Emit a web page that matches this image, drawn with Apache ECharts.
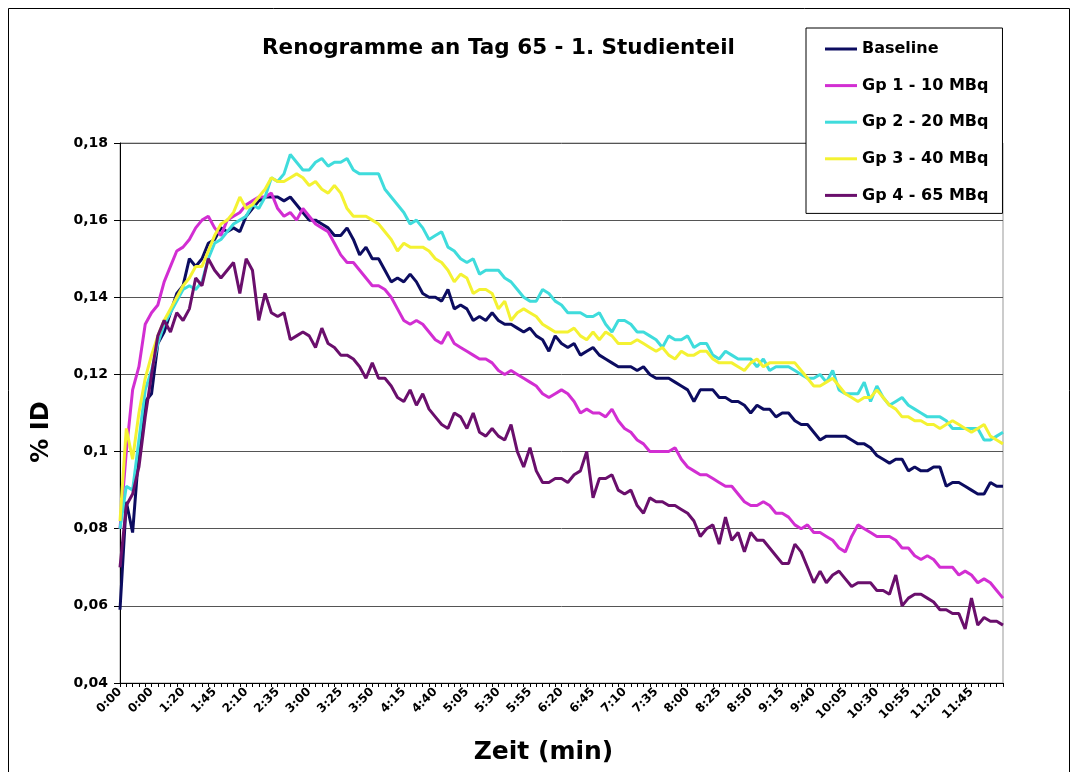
<!DOCTYPE html>
<html>
<head>
<meta charset="utf-8">
<title>Renogramme an Tag 65</title>
<script src="https://cdn.jsdelivr.net/npm/echarts@6/dist/echarts.min.js"></script>
<style>
  html, body { margin: 0; padding: 0; background: #fff; }
  #chart { width: 1078px; height: 772px; }
</style>
</head>
<body>
<div id="chart"></div>
<script>
// time axis: first ten samples are shown as 0:00, then 5 s steps from 1:20
const timeLabels = [];
for (let i = 0; i < 141; i++) {
  if (i < 10) { timeLabels.push('0:00'); continue; }
  const s = 30 + 5 * i;
  timeLabels.push(Math.floor(s / 60) + ':' + String(s % 60).padStart(2, '0'));
}

const seriesNames = ['Baseline', 'Gp 1 - 10 MBq', 'Gp 2 - 20 MBq', 'Gp 3 - 40 MBq', 'Gp 4 - 65 MBq'];

const baseline = [
  .059,.087,.079,.100,.113,.115,.128,.131,.136,.141,
  .143,.150,.148,.150,.154,.155,.158,.157,.158,.157,
  .161,.163,.165,.166,.166,.166,.165,.166,.164,.162,
  .160,.160,.159,.158,.156,.156,.158,.155,.151,.153,
  .150,.150,.147,.144,.145,.144,.146,.144,.141,.140,
  .140,.139,.142,.137,.138,.137,.134,.135,.134,.136,
  .134,.133,.133,.132,.131,.132,.130,.129,.126,.130,
  .128,.127,.128,.125,.126,.127,.125,.124,.123,.122,
  .122,.122,.121,.122,.120,.119,.119,.119,.118,.117,
  .116,.113,.116,.116,.116,.114,.114,.113,.113,.112,
  .110,.112,.111,.111,.109,.110,.110,.108,.107,.107,
  .105,.103,.104,.104,.104,.104,.103,.102,.102,.101,
  .099,.098,.097,.098,.098,.095,.096,.095,.095,.096,
  .096,.091,.092,.092,.091,.090,.089,.089,.092,.091,
  .091
];
const gp1 = [
  .080,.100,.116,.122,.133,.136,.138,.144,.148,.152,
  .153,.155,.158,.160,.161,.158,.156,.160,.161,.162,
  .164,.165,.166,.166,.167,.163,.161,.162,.160,.163,
  .161,.159,.158,.157,.154,.151,.149,.149,.147,.145,
  .143,.143,.142,.140,.137,.134,.133,.134,.133,.131,
  .129,.128,.131,.128,.127,.126,.125,.124,.124,.123,
  .121,.120,.121,.120,.119,.118,.117,.115,.114,.115,
  .116,.115,.113,.110,.111,.110,.110,.109,.111,.108,
  .106,.105,.103,.102,.100,.100,.100,.100,.101,.098,
  .096,.095,.094,.094,.093,.092,.091,.091,.089,.087,
  .086,.086,.087,.086,.084,.084,.083,.081,.080,.081,
  .079,.079,.078,.077,.075,.074,.078,.081,.080,.079,
  .078,.078,.078,.077,.075,.075,.073,.072,.073,.072,
  .070,.070,.070,.068,.069,.068,.066,.067,.066,.064,
  .062
];
const gp2 = [
  .080,.091,.090,.103,.116,.121,.128,.133,.136,.139,
  .142,.143,.142,.144,.150,.154,.155,.157,.159,.160,
  .161,.164,.163,.166,.171,.170,.172,.177,.175,.173,
  .173,.175,.176,.174,.175,.175,.176,.173,.172,.172,
  .172,.172,.168,.166,.164,.162,.159,.160,.158,.155,
  .156,.157,.153,.152,.150,.149,.150,.146,.147,.147,
  .147,.145,.144,.142,.140,.139,.139,.142,.141,.139,
  .138,.136,.136,.136,.135,.135,.136,.133,.131,.134,
  .134,.133,.131,.131,.130,.129,.127,.130,.129,.129,
  .130,.127,.128,.128,.125,.124,.126,.125,.124,.124,
  .124,.122,.124,.121,.122,.122,.122,.121,.120,.119,
  .119,.120,.118,.121,.116,.115,.115,.115,.118,.113,
  .117,.114,.112,.113,.114,.112,.111,.110,.109,.109,
  .109,.108,.106,.106,.106,.106,.106,.103,.103,.104,
  .105
];
const gp3 = [
  .082,.106,.098,.110,.119,.125,.130,.134,.137,.140,
  .143,.145,.148,.148,.152,.156,.159,.160,.162,.166,
  .163,.164,.166,.168,.171,.170,.170,.171,.172,.171,
  .169,.170,.168,.167,.169,.167,.163,.161,.161,.161,
  .160,.159,.157,.155,.152,.154,.153,.153,.153,.152,
  .150,.149,.147,.144,.146,.145,.141,.142,.142,.141,
  .137,.139,.134,.136,.137,.136,.135,.133,.132,.131,
  .131,.131,.132,.130,.129,.131,.129,.131,.130,.128,
  .128,.128,.129,.128,.127,.126,.127,.125,.124,.126,
  .125,.125,.126,.126,.124,.123,.123,.123,.122,.121,
  .123,.124,.122,.123,.123,.123,.123,.123,.121,.119,
  .117,.117,.118,.119,.117,.115,.114,.113,.114,.114,
  .116,.114,.112,.111,.109,.109,.108,.108,.107,.107,
  .106,.107,.108,.107,.106,.105,.106,.107,.104,.103,
  .102
];
const gp4 = [
  .070,.086,.089,.096,.109,.120,.130,.134,.131,.136,
  .134,.137,.145,.143,.150,.147,.145,.147,.149,.141,
  .150,.147,.134,.141,.136,.135,.136,.129,.130,.131,
  .130,.127,.132,.128,.127,.125,.125,.124,.122,.119,
  .123,.119,.119,.117,.114,.113,.116,.112,.115,.111,
  .109,.107,.106,.110,.109,.106,.110,.105,.104,.106,
  .104,.103,.107,.100,.096,.101,.095,.092,.092,.093,
  .093,.092,.094,.095,.100,.088,.093,.093,.094,.090,
  .089,.090,.086,.084,.088,.087,.087,.086,.086,.085,
  .084,.082,.078,.080,.081,.076,.083,.077,.079,.074,
  .079,.077,.077,.075,.073,.071,.071,.076,.074,.070,
  .066,.069,.066,.068,.069,.067,.065,.066,.066,.066,
  .064,.064,.063,.068,.060,.062,.063,.063,.062,.061,
  .059,.059,.058,.058,.054,.062,.055,.057,.056,.056,
  .055
];

const yMin = 0.04, yMax = 0.18, yStep = 0.02;
const colors = ['#0c0c60', '#d22ed2', '#3fdcdc', '#f4f232', '#6a0f6c'];
const seriesData = [baseline, gp1, gp2, gp3, gp4];

const font = 'DejaVu Sans';

const chart = echarts.init(document.getElementById('chart'), null, { renderer: 'canvas' });

const option = {
  animation: false,
  backgroundColor: '#fff',
  color: colors,
  title: {
    text: 'Renogramme an Tag 65 - 1. Studienteil',
    left: 257,
    top: 32,
    textStyle: { fontFamily: font, fontWeight: 'bold', fontSize: 21.5, color: '#000' }
  },
  legend: {
    orient: 'vertical',
    left: 806,
    top: 28,
    padding: [13, 14, 10, 19],
    icon: 'rect',
    itemWidth: 32,
    itemHeight: 3,
    itemGap: 20.6,
    borderColor: '#000',
    borderWidth: 1,
    backgroundColor: '#fff',
    data: seriesNames,
    textStyle: { fontFamily: font, fontWeight: 'bold', fontSize: 16, color: '#000' }
  },
  grid: {
    left: 120,
    right: 75,
    top: 143,
    bottom: 89,
    show: true,
    borderColor: '#999',
    borderWidth: 1,
    containLabel: false
  },
  xAxis: {
    type: 'category',
    data: timeLabels,
    boundaryGap: false,
    name: 'Zeit (min)',
    nameLocation: 'middle',
    nameGap: 57,
    nameTextStyle: { fontFamily: font, fontWeight: 'bold', fontSize: 25, color: '#000', padding: [0, 36, 0, 0] },
    axisLine: { lineStyle: { color: '#000', width: 1 } },
    axisTick: { show: true, interval: 0, length: 4, lineStyle: { color: '#000' } },
    axisLabel: {
      interval: (idx) => idx % 5 === 0 && idx < 140,
      rotate: 45,
      margin: 7,
      fontFamily: font,
      fontWeight: 'bold',
      fontSize: 12,
      color: '#000'
    },
    splitLine: { show: false }
  },
  yAxis: {
    type: 'value',
    min: yMin,
    max: yMax,
    interval: yStep,
    name: '% ID',
    nameLocation: 'middle',
    nameGap: 66,
    nameRotate: 90,
    nameTextStyle: { fontFamily: font, fontWeight: 'bold', fontSize: 24, color: '#000', padding: [0, 38, 0, 0] },
    axisLine: { show: true, lineStyle: { color: '#000', width: 1 } },
    axisTick: { show: true, length: 6, lineStyle: { color: '#000' } },
    axisLabel: {
      margin: 12,
      fontFamily: font,
      fontWeight: 'bold',
      fontSize: 14,
      color: '#000',
      formatter: (v) => String(+v.toFixed(2)).replace('.', ',')
    },
    splitLine: { show: true, lineStyle: { color: '#555', width: 1 } }
  },
  series: seriesNames.map((name, i) => ({
    name: name,
    type: 'line',
    data: seriesData[i],
    symbol: 'none',
    smooth: false,
    lineStyle: { width: 3, color: colors[i] },
    itemStyle: { color: colors[i] }
  })),
  graphic: [
    {
      type: 'rect',
      shape: { x: 8.5, y: 8.5, width: 1061, height: 800 },
      style: { fill: null, stroke: '#000', lineWidth: 1 },
      silent: true,
      z: -1
    }
  ]
};

chart.setOption(option);
window.addEventListener('resize', function () {
  chart && chart.resize();
});
</script>
</body>
</html>
